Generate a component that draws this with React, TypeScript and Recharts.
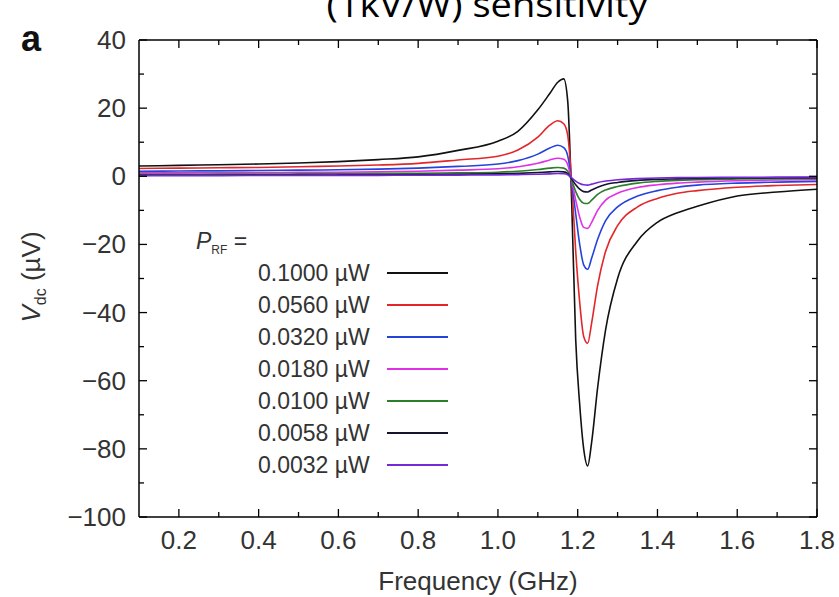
import { LineChart, Line, XAxis, YAxis } from 'recharts';

// frequency points (GHz), denser around the resonance
const freqs = [
  0.1, 0.2, 0.3, 0.4, 0.5, 0.6, 0.7, 0.8, 0.9, 1.0, 1.05, 1.1, 1.13, 1.15, 1.165, 1.175,
  1.185, 1.195, 1.205, 1.215, 1.225, 1.235, 1.25, 1.27, 1.3, 1.35, 1.4, 1.45, 1.5, 1.6, 1.7, 1.8,
];

// V_dc in µV for each P_RF
const p1000 = [3.0, 3.2, 3.4, 3.6, 3.9, 4.3, 4.9, 5.7, 7.6, 10.3, 13.2, 19.5, 24.3, 27.6, 28.6, 22, -8, -48, -67, -80, -85, -78, -62, -45, -30, -19, -13.5, -10.7, -8.8, -5.8, -4.6, -3.8];
const p0560 = [2.3, 2.4, 2.5, 2.6, 2.8, 3.0, 3.3, 3.8, 4.8, 5.9, 7.7, 11.5, 15, 16.3, 15.4, 12, -2, -22, -37, -47, -49, -43, -32, -22, -14.5, -9, -6.5, -5, -4.2, -3.2, -2.7, -2.4];
const p0320 = [1.5, 1.55, 1.6, 1.7, 1.8, 1.9, 2.1, 2.4, 2.9, 3.6, 4.6, 6.5, 8.3, 9.1, 8.4, 6, -2, -11, -20, -26, -27.3, -24, -18.5, -13, -9, -5.8, -4.2, -3.2, -2.6, -2.0, -1.7, -1.5];
const p0180 = [1.0, 1.0, 1.05, 1.1, 1.15, 1.2, 1.3, 1.5, 1.8, 2.2, 2.8, 3.8, 4.8, 5.3, 5.0, 3.4, -1.5, -7, -12, -15, -15.3, -13.5, -10, -7, -5, -3.3, -2.5, -2, -1.7, -1.3, -1.1, -1.0];
const p0100 = [0.6, 0.6, 0.62, 0.65, 0.7, 0.75, 0.8, 0.9, 1.0, 1.2, 1.5, 2.0, 2.4, 2.6, 2.4, 1.5, -1.2, -4.5, -6.8, -7.9, -8, -7, -5.3, -4, -3, -2, -1.5, -1.2, -1.0, -0.8, -0.7, -0.6];
const p0058 = [0.3, 0.3, 0.32, 0.35, 0.38, 0.4, 0.45, 0.5, 0.6, 0.7, 0.85, 1.1, 1.3, 1.4, 1.3, 0.8, -0.8, -2.5, -3.8, -4.5, -4.6, -4, -3.2, -2.4, -1.8, -1.2, -0.9, -0.75, -0.6, -0.5, -0.45, -0.4];
const p0032 = [0.2, 0.2, 0.2, 0.22, 0.24, 0.26, 0.28, 0.3, 0.35, 0.4, 0.5, 0.6, 0.7, 0.8, 0.75, 0.45, -0.5, -1.4, -2.1, -2.5, -2.6, -2.3, -1.8, -1.4, -1.0, -0.7, -0.5, -0.4, -0.35, -0.3, -0.25, -0.2];

const seriesValues = [p1000, p0560, p0320, p0180, p0100, p0058, p0032];
const seriesNames = ['0.1000 µW', '0.0560 µW', '0.0320 µW', '0.0180 µW', '0.0100 µW', '0.0058 µW', '0.0032 µW'];
const seriesColors = ['#111111', '#e3262a', '#2442dc', '#e030e6', '#2b7f2b', '#14142e', '#7428d8'];

const xMajor = [0.2, 0.4, 0.6, 0.8, 1.0, 1.2, 1.4, 1.6, 1.8];
const xMinor = [0.3, 0.5, 0.7, 0.9, 1.1, 1.3, 1.5, 1.7];
const yMajor = [-100, -80, -60, -40, -20, 0, 20, 40];
const yMinor = [-90, -70, -50, -30, -10, 10, 30];

const xTicks = [...xMajor, ...xMinor].sort((a, b) => a - b);
const yTicks = [...yMajor, ...yMinor].sort((a, b) => a - b);

const chartData = freqs.map((f, i) => {
  const row: Record<string, number> = { f };
  seriesValues.forEach((vals, k) => {
    row[`s${k}`] = vals[i];
  });
  return row;
});

const FONT = '"Liberation Sans", Arial, Helvetica, sans-serif';
const TICK_COLOR = '#333';

const isMajorX = (v: number) => xMajor.some((m) => Math.abs(m - v) < 1e-6);
const isMajorY = (v: number) => yMajor.includes(v);
const fmtY = (v: number) => (v < 0 ? `\u2212${Math.abs(v)}` : String(v));

function BottomTick({ x, y, payload }: any) {
  const major = isMajorX(payload.value);
  return (
    <g>
      <line x1={x} x2={x} y1={y} y2={y - (major ? 8 : 5)} stroke="#000" strokeWidth={1.3} />
      {major && (
        <text x={x} y={y + 32} textAnchor="middle" fontSize={26} fill={TICK_COLOR} fontFamily={FONT}>
          {payload.value.toFixed(1)}
        </text>
      )}
    </g>
  );
}

function TopTick({ x, y, payload }: any) {
  const major = isMajorX(payload.value);
  return <line x1={x} x2={x} y1={y} y2={y + (major ? 8 : 5)} stroke="#000" strokeWidth={1.3} />;
}

function LeftTick({ x, y, payload }: any) {
  const major = isMajorY(payload.value);
  return (
    <g>
      <line x1={x} x2={x + (major ? 8 : 5)} y1={y} y2={y} stroke="#000" strokeWidth={1.3} />
      {major && (
        <text x={x - 13} y={y + 9} textAnchor="end" fontSize={26} fill={TICK_COLOR} fontFamily={FONT}>
          {fmtY(payload.value)}
        </text>
      )}
    </g>
  );
}

function RightTick({ x, y, payload }: any) {
  const major = isMajorY(payload.value);
  return <line x1={x} x2={x - (major ? 8 : 5)} y1={y} y2={y} stroke="#000" strokeWidth={1.3} />;
}

const axisLine = { stroke: '#000', strokeWidth: 1.5 };

export default function App() {
  return (
    <div style={{ position: 'absolute', left: 0, top: 0, width: 839, height: 597, background: '#fff', overflow: 'hidden' }}>
      <LineChart width={839} height={597} data={chartData} margin={{ top: 39, right: 21, bottom: 40, left: 79 }}>
        <XAxis
          dataKey="f"
          type="number"
          domain={[0.1, 1.8]}
          ticks={xTicks}
          interval={0}
          tickSize={0}
          tickMargin={0}
          tickLine={false}
          axisLine={axisLine}
          tick={(p: any) => <BottomTick {...p} />}
          height={40}
          allowDataOverflow
        />
        <XAxis
          xAxisId="top"
          orientation="top"
          dataKey="f"
          type="number"
          domain={[0.1, 1.8]}
          ticks={xTicks}
          interval={0}
          tickSize={0}
          tickMargin={0}
          tickLine={false}
          axisLine={axisLine}
          tick={(p: any) => <TopTick {...p} />}
          height={1}
          allowDataOverflow
        />
        <YAxis
          type="number"
          domain={[-100, 40]}
          ticks={yTicks}
          interval={0}
          tickSize={0}
          tickMargin={0}
          tickLine={false}
          axisLine={axisLine}
          tick={(p: any) => <LeftTick {...p} />}
          width={60}
          allowDataOverflow
        />
        <YAxis
          yAxisId="right"
          orientation="right"
          type="number"
          domain={[-100, 40]}
          ticks={yTicks}
          interval={0}
          tickSize={0}
          tickMargin={0}
          tickLine={false}
          axisLine={axisLine}
          tick={(p: any) => <RightTick {...p} />}
          width={1}
          allowDataOverflow
        />
        {seriesValues.map((_, k) => (
          <Line
            key={k}
            type="monotone"
            dataKey={`s${k}`}
            name={seriesNames[k]}
            stroke={seriesColors[k]}
            strokeWidth={1.6}
            dot={false}
            isAnimationActive={false}
          />
        ))}
      </LineChart>

      <svg width={839} height={597} style={{ position: 'absolute', left: 0, top: 0, pointerEvents: 'none' }}>
        <text x={487} y={17} textAnchor="middle" fontSize={34} fill="#000" fontFamily='"Open Sans", sans-serif' textLength={321} lengthAdjust="spacingAndGlyphs">
          (1kV/W) sensitivity
        </text>
        <text x={21} y={51} fontSize={36} fontWeight="bold" fill="#111" fontFamily={FONT}>
          a
        </text>
        <text x={478} y={590} textAnchor="middle" fontSize={26} fill={TICK_COLOR} fontFamily={FONT}>
          Frequency (GHz)
        </text>
        <text transform="translate(40,277) rotate(-90)" textAnchor="middle" fontSize={26} fill={TICK_COLOR} fontFamily={FONT}>
          <tspan fontStyle="italic">V</tspan>
          <tspan fontSize={16} dy={6}>dc</tspan>
          <tspan dy={-6}> (µV)</tspan>
        </text>
      </svg>

      <div style={{ position: 'absolute', left: 196, top: 226, fontFamily: FONT, color: TICK_COLOR, pointerEvents: 'none' }}>
        <div style={{ fontSize: 23, height: 31, lineHeight: '31px' }}>
          <i>P</i>
          <span style={{ fontSize: 12, verticalAlign: -5 }}>RF</span> =
        </div>
        {seriesNames.map((name, k) => (
          <div key={name} style={{ display: 'flex', alignItems: 'center', height: 32, marginLeft: 62 }}>
            <span style={{ fontSize: 23, width: 129, whiteSpace: 'nowrap' }}>{name}</span>
            <span style={{ width: 61, height: 0, borderTop: `2px solid ${seriesColors[k]}` }} />
          </div>
        ))}
      </div>
    </div>
  );
}
